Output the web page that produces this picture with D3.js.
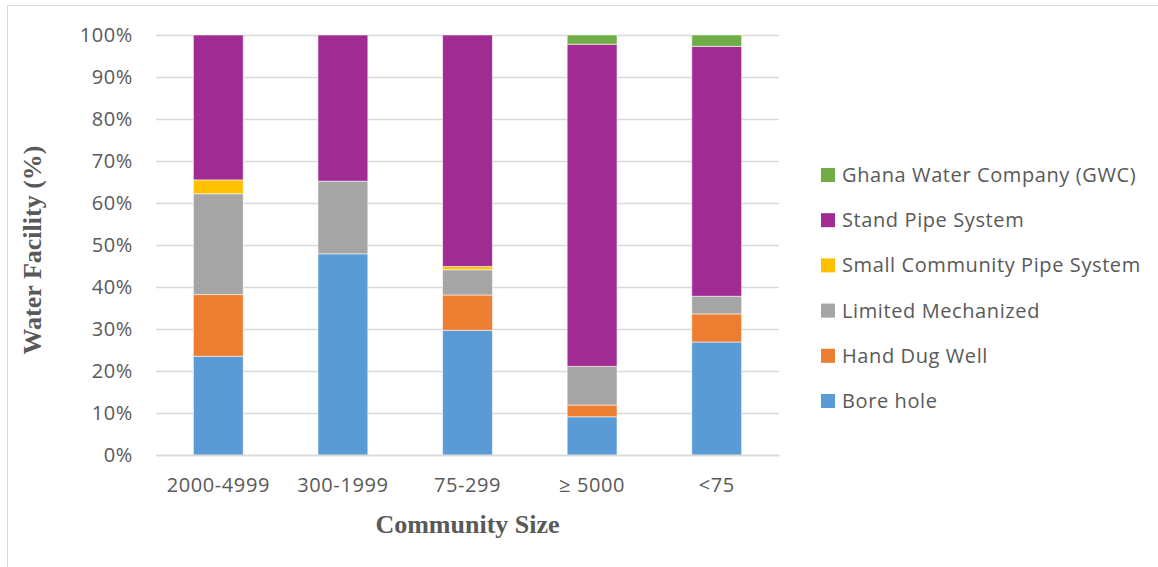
<!DOCTYPE html>
<html>
<head>
<meta charset="utf-8">
<script src="https://cdn.jsdelivr.net/npm/d3@7"></script>
<style>
  html, body { margin: 0; padding: 0; background: #fff; }
  svg { display: block; }
</style>
</head>
<body>
<svg id="chart" width="1158" height="567"></svg>
<script>
const categories = ["2000-4999", "300-1999", "75-299", "\u2265 5000", "<75"];
const seriesNames = ["Bore hole", "Hand Dug Well", "Limited Mechanized", "Small Community Pipe System", "Stand Pipe System", "Ghana Water Company (GWC)"];
const boreHole        = [23.5, 47.9, 29.7, 9.1, 26.9];
const handDugWell     = [14.7, 0.0, 8.4, 2.8, 6.7];
const limitedMech     = [24.0, 17.3, 6.0, 9.2, 4.2];
const smallCommunity  = [3.3, 0.0, 0.8, 0.0, 0.0];
const standPipe       = [34.5, 34.8, 55.1, 76.7, 59.5];
const ghanaWater      = [0.0, 0.0, 0.0, 2.2, 2.7];
const seriesColors = ["#5B9BD5", "#ED7D31", "#A5A5A5", "#FFC000", "#A02B93", "#70AD47"];
const yTicks = [0, 10, 20, 30, 40, 50, 60, 70, 80, 90, 100];
const yTitle = "Water Facility (%)";
const xTitle = "Community Size";

const seriesValues = [boreHole, handDugWell, limitedMech, smallCommunity, standPipe, ghanaWater];
const table = categories.map((c, i) => {
  const row = { category: c };
  seriesNames.forEach((s, j) => row[s] = seriesValues[j][i]);
  return row;
});

const svg = d3.select("#chart");
const labelFont = "'Open Sans', sans-serif";

// chart area border (Excel-like)
svg.append("rect")
  .attr("x", 7.5).attr("y", 5.5)
  .attr("width", 1170).attr("height", 600)
  .attr("fill", "none").attr("stroke", "#d9d9d9").attr("stroke-width", 1);

const pLeft = 156, pRight = 779, pTop = 35, pBottom = 455;
const x = d3.scaleBand().domain(categories).range([pLeft, pRight]).paddingInner(0.6).paddingOuter(0.3);
const y = d3.scaleLinear().domain([0, 100]).range([pBottom, pTop]);

// grid
const yAxis = d3.axisLeft(y).tickValues(yTicks).tickFormat(d => d + "%").tickSize(-(pRight - pLeft)).tickPadding(23);
const gy = svg.append("g").attr("transform", `translate(${pLeft},0)`).call(yAxis);
gy.select(".domain").remove();
gy.selectAll(".tick line").attr("stroke", "#d9d9d9").attr("stroke-width", 1.3);
gy.selectAll(".tick text").attr("fill", "#595959").attr("font-family", labelFont)
  .attr("font-size", "20px").attr("letter-spacing", "0.6px");

// stacked bars
const stack = d3.stack().keys(seriesNames);
const stacked = stack(table);
svg.append("g").selectAll("g")
  .data(stacked).join("g")
  .attr("fill", (d, i) => seriesColors[i])
  .selectAll("rect")
  .data(d => d.filter(p => p[1] - p[0] > 0))
  .join("rect")
  .attr("x", d => x(d.data.category))
  .attr("width", x.bandwidth())
  .attr("y", d => y(d[1]))
  .attr("height", d => y(d[0]) - y(d[1]))
  .attr("stroke", "#ffffff").attr("stroke-opacity", 0.55).attr("stroke-width", 1);

// x axis
const xAxis = d3.axisBottom(x).tickSize(0).tickPadding(23);
const gx = svg.append("g").attr("transform", `translate(0,${pBottom})`).call(xAxis);
gx.select(".domain").attr("stroke", "#d9d9d9").attr("stroke-width", 1.3);
gx.selectAll(".tick text").attr("fill", "#595959").attr("font-family", labelFont)
  .attr("font-size", "20px").attr("letter-spacing", "0.6px");

// axis titles
svg.append("text")
  .attr("x", (pLeft + pRight) / 2).attr("y", 533)
  .attr("text-anchor", "middle")
  .attr("font-family", "'Liberation Serif', serif").attr("font-weight", "bold").attr("font-size", "26px")
  .attr("fill", "#595959").text(xTitle);

svg.append("text")
  .attr("transform", `translate(41,${(pTop + pBottom) / 2 + 5}) rotate(-90)`)
  .attr("text-anchor", "middle")
  .attr("font-family", "'Liberation Serif', serif").attr("font-weight", "bold").attr("font-size", "26px")
  .attr("fill", "#595959").text(yTitle);

// legend (reverse order)
const legendOrder = seriesNames.map((s, i) => ({ name: s, color: seriesColors[i] })).reverse();
const lg = svg.append("g");
const items = lg.selectAll("g").data(legendOrder).join("g")
  .attr("transform", (d, i) => `translate(821,${175 + i * 45.2})`);
items.append("rect").attr("x", 0).attr("y", -7).attr("width", 14).attr("height", 14).attr("fill", d => d.color);
items.append("text").attr("x", 21).attr("y", 0).attr("dy", "0.35em")
  .attr("fill", "#595959").attr("font-family", labelFont).attr("font-size", "20px").attr("letter-spacing", "0.6px")
  .text(d => d.name);
</script>
</body>
</html>
